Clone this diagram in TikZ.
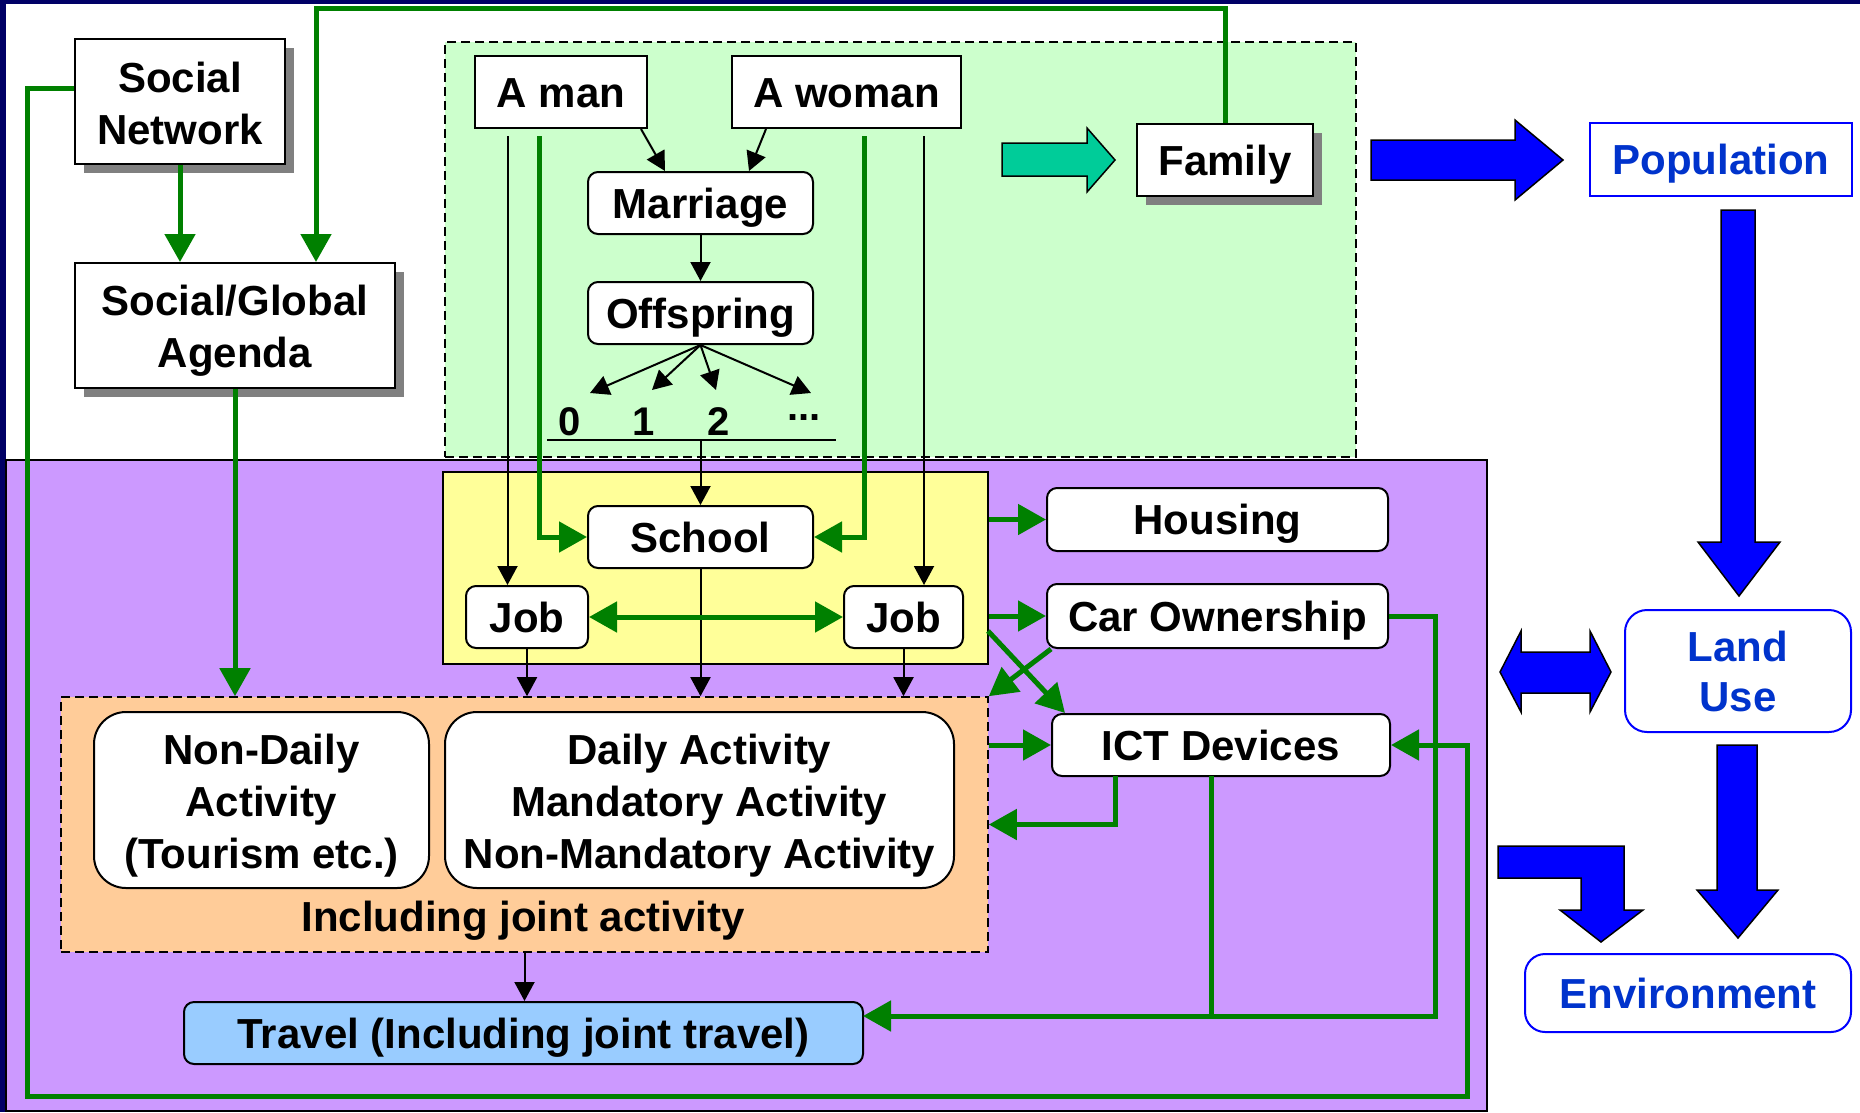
\documentclass[tikz,border=0pt]{standalone}
\usepackage{fontspec}
\setmainfont{Liberation Sans}
\usetikzlibrary{arrows.meta,shadows}

\definecolor{navy}{HTML}{000066}
\definecolor{zonegreen}{HTML}{CCFFCC}
\definecolor{zonepurple}{HTML}{CC99FF}
\definecolor{zoneyellow}{HTML}{FFFF99}
\definecolor{zoneorange}{HTML}{FFCC99}
\definecolor{travelblue}{HTML}{99CCFF}
\definecolor{linkgreen}{HTML}{008000}
\definecolor{tealfill}{HTML}{00CC99}
\definecolor{bluetext}{HTML}{0033CC}
\definecolor{bigblue}{HTML}{0000FF}

\begin{document}
\begin{tikzpicture}[x=1pt,y=-1pt,
  every node/.style={inner sep=0pt, font=\fontsize{42}{52}\selectfont\bfseries},
  sqbox/.style={draw=black, line width=2pt, fill=white, align=center},
  rbox/.style={sqbox, rounded corners=10pt},
  oneline/.style={text height=30pt, text depth=0pt},
  shadowed/.style={drop shadow={shadow xshift=9pt, shadow yshift=-9pt, opacity=1, fill=black!50}},
  zone/.style={draw=black, line width=1.6pt, dash pattern=on 9pt off 5pt},
  bluebox/.style={draw=bigblue, line width=2pt, fill=white, text=bluetext, align=center},
  numtext/.style={font=\fontsize{40}{48}\selectfont\bfseries, anchor=base},
  glink/.style={draw=linkgreen, line width=5pt, -{Triangle[length=28pt,width=30pt]}},
  gboth/.style={draw=linkgreen, line width=5pt, {Triangle[length=28pt,width=30pt]}-{Triangle[length=28pt,width=30pt]}},
  gline/.style={draw=linkgreen, line width=5pt},
  blink/.style={draw=black, line width=2pt, -{Triangle[length=19pt,width=20pt]}},
  fatarrow/.style={draw=black, line width=1.5pt, fill=bigblue},
]
\useasboundingbox (0,0) rectangle (1860,1112);
\fill[white] (0,0) rectangle (1860,1112);

% frame strips
\fill[navy] (0,0) rectangle (1860,4);
\fill[navy] (0,0) rectangle (6,1112);

% zones
\node[zone, fill=zonegreen, minimum width=911pt, minimum height=415pt] (famzone) at (900.5,249.5) {};
\node[draw=black, line width=1.5pt, fill=zonepurple, minimum width=1481pt, minimum height=651pt] (actzone) at (746.5,785.5) {};
\node[draw=black, line width=1.5pt, fill=zoneyellow, minimum width=545pt, minimum height=192pt] (yellow) at (715.5,568) {};
\node[zone, fill=zoneorange, minimum width=927pt, minimum height=255pt] (orange) at (524.5,824.5) {};

% boxes with shadows (multi-line boxes: the text box ends at the last baseline)
\node[sqbox, shadowed, text height=85pt, text depth=0pt, minimum width=210pt, minimum height=125pt] (sn) at (180,101.5) {Social\\Network};
\node[sqbox, shadowed, text height=83pt, text depth=0pt, minimum width=320pt, minimum height=125pt] (ag) at (235,325.5) {Social/Global\\Agenda};
\node[sqbox, shadowed, oneline, minimum width=176pt, minimum height=72pt] (family) at (1225,160) {Family};

% household
\node[sqbox, oneline, minimum width=172pt, minimum height=72pt] (man) at (561,92) {A man};
\node[sqbox, oneline, minimum width=229pt, minimum height=72pt] (woman) at (846.5,92) {A woman};
\node[rbox, oneline, minimum width=225pt, minimum height=62pt] (marriage) at (700.5,203) {Marriage};
\node[rbox, oneline, minimum width=225pt, minimum height=62pt] (offspring) at (700.5,313) {Offspring};
\node[numtext] (k0) at (570,435) {0};
\node[numtext] (k1) at (644,435) {1};
\node[numtext] (k2) at (719,435) {2};
\node[numtext] (k3) at (804,435) {\raisebox{15pt}{...}};

% activity zone
\node[rbox, oneline, minimum width=225pt, minimum height=62pt] (school) at (700.5,537) {School};
\node[rbox, oneline, minimum width=122pt, minimum height=62pt] (jobL) at (527,617) {Job};
\node[rbox, oneline, minimum width=119pt, minimum height=62pt] (jobR) at (903.5,617) {Job};
\node[rbox, oneline, minimum width=341pt, minimum height=63pt] (housing) at (1217.5,519.5) {Housing};
\node[rbox, oneline, minimum width=341pt, minimum height=64pt] (car) at (1217.5,616) {Car Ownership};
\node[rbox, oneline, minimum width=338pt, minimum height=62pt] (ict) at (1221,745) {ICT Devices};
\node[sqbox, rounded corners=32pt, text height=136pt, text depth=0pt, minimum width=335pt, minimum height=176pt] (nondaily) at (261.5,800) {Non-Daily\\Activity\\(Tourism etc.)};
\node[sqbox, rounded corners=32pt, text height=136pt, text depth=0pt, minimum width=509pt, minimum height=176pt] (daily) at (699.5,800) {Daily Activity\\Mandatory Activity\\Non-Mandatory Activity};
\node[anchor=base] (joint) at (523,931) {Including joint activity};
\node[rbox, oneline, fill=travelblue, minimum width=679pt, minimum height=62pt] (travel) at (523.5,1033) {Travel (Including joint travel)};

% outer system
\node[bluebox, oneline, minimum width=262pt, minimum height=73pt] (pop) at (1721,159.5) {Population};
\node[bluebox, rounded corners=22pt, text height=80pt, text depth=0pt, font=\fontsize{42}{50}\selectfont\bfseries, minimum width=226pt, minimum height=122pt] (land) at (1738,671) {Land\\Use};
\node[bluebox, oneline, rounded corners=20pt, minimum width=326pt, minimum height=78pt] (env) at (1688,993) {Environment};

% free ends of connectors
\coordinate (manK) at (507.5,136);
\coordinate (manG) at (539,136);
\coordinate (womG) at (864,136);
\coordinate (womK) at (924,136);
\coordinate (c0) at (590,393);
\coordinate (c1) at (652,390);
\coordinate (c2) at (716,390);
\coordinate (c3) at (811,393);
\coordinate (ulL) at (547,440);
\coordinate (ulR) at (836,440);
\coordinate (ulM) at (700.5,440);
\coordinate (topturn) at (316,8);
\coordinate (loopA) at (27,1096);
\coordinate (loopB) at (1467,1096);
\coordinate (ydiag) at (988,631);
\coordinate (carR) at (1435,616);
\coordinate (tline) at (863,1016);
\coordinate (ictA) at (1115,776);
\coordinate (ictB) at (1211,776);

% black links
\draw[blink] ([xshift=-7pt]man.south east) -- ([xshift=78pt]marriage.north west);
\draw[blink] ([xshift=35pt]woman.south west) -- ([xshift=-65pt]marriage.north east);
\draw[blink] (marriage.south) -- (offspring.north);
\foreach \c in {c0,c1,c2,c3} \draw[blink] (offspring.south) -- (\c);
\draw[line width=2pt] (ulL) -- (ulR);
\draw[blink] (ulM) -- (school.north);
\draw[blink] (manK) -- (manK |- jobL.north);
\draw[blink] (womK) -- (womK |- jobR.north);
\draw[blink] (school.south) -- (school.south |- orange.north);
\draw[blink] (jobL.south) -- (jobL.south |- orange.north);
\draw[blink] (jobR.south) -- (jobR.south |- orange.north);
\draw[blink] (orange.south) -- (orange.south |- travel.north);

% green links
\draw[glink] (sn.south) -- (sn.south |- ag.north);
\draw[glink] (family.north) |- (topturn) -- (topturn |- ag.north);
\draw[glink] ([yshift=13.5pt]sn.west) -| (loopA) -- (loopB) |- (ict.east);
\draw[glink] (ag.south) -- (ag.south |- orange.north);
\draw[glink] (manG) |- (school.west);
\draw[glink] (womG) |- (school.east);
\draw[gboth] (jobL.east) -- (jobR.west);
\draw[glink] (yellow.east |- housing.west) -- (housing.west);
\draw[glink] (yellow.east |- car.west) -- (car.west);
\draw[glink] (ydiag) -- ([xshift=14pt]ict.north west);
\draw[glink] ([xshift=5pt]car.south west) -- (orange.north east);
\draw[glink] (orange.east |- ict.west) -- (ict.west);
\draw[glink] (ictA) |- (orange.east);
\draw[gline] (ictB) -- (ictB |- tline);
\draw[glink] (car.east) -- (carR) |- (tline);

% broad arrows
\draw[fatarrow, fill=tealfill] (1002,143) -- (1087,143) -- (1087,128) -- (1115,160) -- (1087,192) -- (1087,176) -- (1002,176) -- cycle;
\draw[fatarrow] (1371,140) -- (1515,140) -- (1515,120) -- (1563,160) -- (1515,200) -- (1515,180) -- (1371,180) -- cycle;
\draw[fatarrow] (1721,210) -- (1755,210) -- (1755,542) -- (1780,542) -- (1739,596) -- (1698,542) -- (1721,542) -- cycle;
\draw[fatarrow] (1500,672) -- (1521,631) -- (1521,652) -- (1590,652) -- (1590,631) -- (1611,672) -- (1590,712) -- (1590,693) -- (1521,693) -- (1521,712) -- cycle;
\draw[fatarrow] (1717,745) -- (1757,745) -- (1757,890) -- (1778,890) -- (1738,938) -- (1697,890) -- (1717,890) -- cycle;
\draw[fatarrow] (1498,846) -- (1624,846) -- (1624,910) -- (1643,910) -- (1601,942) -- (1560,910) -- (1581,910) -- (1581,878) -- (1498,878) -- cycle;
\end{tikzpicture}
\end{document}
